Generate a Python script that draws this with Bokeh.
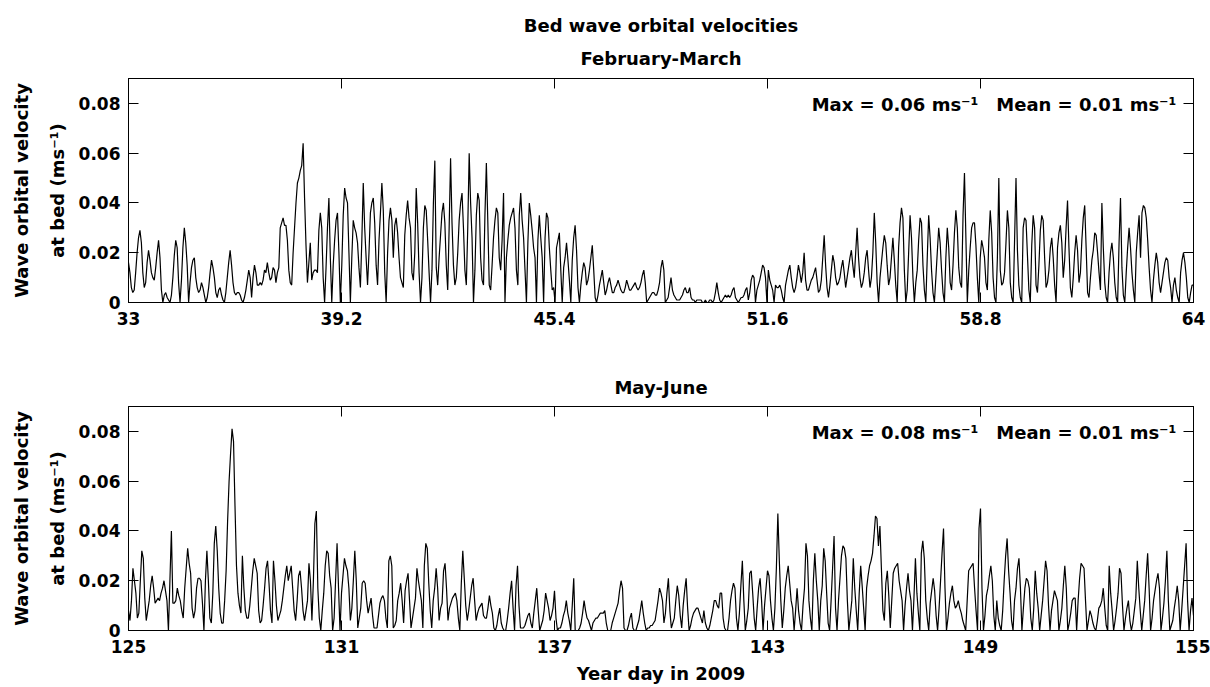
import numpy as np
from bokeh.plotting import figure
from bokeh.models import Range1d, FixedTicker, LinearAxis, Label, Title
from bokeh.layouts import column
from bokeh.embed import file_html
from bokeh.resources import INLINE

# ------------------------------------------------------------------ data
# hourly bed wave orbital velocity, in mm/s
feb_mar_start_day = 33
may_jun_start_day = 125
samples_per_day = 24

feb_mar_mm_s = [
    16, 12, 6, 4, 5, 12, 20, 26, 29, 24, 12, 6, 8, 16, 21, 17, 12, 10, 9, 14, 20, 25, 18, 5,      # 33
    0, 3, 4, 2, 1, 0, 3, 10, 19, 25, 22, 8, 0, 9, 22, 30, 24, 15, 0, 8, 14, 17, 18, 10,           # 34
    6, 4, 5, 8, 6, 3, 0, 2, 6, 12, 17, 14, 10, 4, 2, 5, 6, 3, 1, 0, 4, 10, 16, 21,                # 35
    15, 8, 4, 3, 4, 4, 3, 1, 0, 2, 5, 9, 13, 10, 2, 10, 15, 12, 7, 7, 8, 7, 9, 13,                # 36
    12, 16, 12, 9, 10, 14, 13, 8, 12, 14, 30, 32, 34, 31, 31, 25, 13, 8, 7, 20, 30, 40, 48, 50,   # 37
    53, 55, 64, 42, 23, 8, 16, 24, 9, 12, 13, 13, 12, 29, 36, 30, 10, 0, 14, 30, 42, 18, 0, 15,   # 38
    25, 33, 36, 20, 0, 15, 35, 46, 42, 40, 20, 0, 18, 33, 30, 28, 24, 14, 6, 25, 48, 30, 18, 7,   # 39
    20, 36, 40, 42, 32, 15, 7, 25, 36, 48, 37, 12, 0, 20, 33, 38, 33, 18, 31, 34, 28, 18, 10, 8,  # 40
    6, 27, 35, 41, 34, 30, 12, 9, 20, 46, 32, 12, 0, 10, 30, 39, 37, 25, 12, 0, 13, 40, 57, 14,   # 41
    7, 18, 27, 36, 40, 32, 15, 5, 30, 58, 32, 15, 7, 10, 20, 33, 40, 44, 30, 13, 7, 30, 60, 40,   # 42
    26, 0, 13, 35, 44, 41, 18, 9, 7, 35, 56, 33, 7, 5, 15, 26, 33, 38, 36, 18, 13, 25, 44, 0,     # 43
    18, 25, 31, 34, 36, 38, 30, 13, 7, 35, 44, 33, 26, 13, 0, 24, 40, 35, 29, 22, 18, 0, 25, 35,  # 44
    26, 18, 0, 26, 36, 34, 22, 13, 5, 6, 0, 22, 25, 28, 13, 0, 14, 18, 24, 17, 9, 0, 17, 26,      # 45
    31, 21, 6, 0, 7, 12, 16, 14, 7, 9, 13, 18, 23, 13, 2, 0, 3, 7, 10, 13, 8, 3, 5, 8,            # 46
    10, 7, 4, 4, 6, 7, 9, 7, 5, 4, 4, 6, 9, 7, 5, 5, 6, 7, 8, 6, 5, 6, 8, 11,                     # 47
    13, 8, 0, 1, 2, 3, 4, 4, 3, 3, 5, 8, 14, 17, 13, 0, 1, 2, 6, 10, 5, 3, 2, 1,                  # 48
    1, 1, 2, 3, 5, 6, 4, 4, 6, 2, 1, 1, 0, 1, 1, 1, 1, 0, 0, 1, 0, 0, 1, 1,                       # 49
    0, 1, 4, 8, 4, 1, 0, 1, 2, 3, 2, 3, 2, 3, 5, 6, 2, 1, 0, 1, 2, 2, 3, 5,                       # 50
    6, 1, 4, 9, 11, 10, 0, 5, 7, 9, 12, 15, 14, 10, 0, 13, 9, 7, 5, 0, 7, 6, 6, 7,                # 51
    5, 2, 0, 7, 10, 13, 15, 10, 6, 4, 6, 10, 15, 12, 8, 12, 20, 9, 5, 5, 7, 9, 10, 12,            # 52
    14, 9, 4, 5, 9, 18, 27, 15, 6, 2, 7, 13, 19, 16, 10, 7, 8, 10, 14, 17, 12, 6, 10, 14,         # 53
    18, 21, 15, 10, 20, 30, 18, 10, 6, 8, 12, 18, 21, 13, 6, 10, 20, 36, 24, 8, 0, 10, 16, 22,    # 54
    27, 24, 15, 7, 10, 18, 26, 17, 7, 0, 22, 32, 38, 34, 13, 0, 5, 20, 35, 26, 10, 0, 8, 13,      # 55
    25, 34, 32, 15, 5, 0, 18, 35, 26, 13, 4, 0, 10, 20, 30, 24, 13, 4, 0, 18, 30, 22, 8, 5,       # 56
    15, 28, 37, 30, 14, 8, 6, 35, 52, 26, 0, 13, 22, 30, 32, 32, 23, 10, 0, 18, 25, 22, 18, 8,    # 57
    5, 25, 37, 28, 10, 2, 0, 18, 50, 13, 7, 8, 12, 24, 37, 30, 8, 2, 0, 25, 50, 21, 7, 2,         # 58
    0, 30, 34, 33, 19, 5, 0, 23, 35, 30, 7, 4, 15, 29, 35, 33, 18, 6, 8, 13, 22, 26, 18, 7,       # 59
    0, 22, 28, 31, 24, 10, 17, 30, 41, 22, 6, 2, 10, 20, 27, 21, 8, 12, 25, 34, 39, 22, 4, 2,     # 60
    10, 17, 21, 28, 27, 20, 12, 5, 40, 22, 8, 2, 0, 12, 20, 24, 18, 8, 2, 0, 24, 42, 14, 3,       # 61
    0, 12, 22, 30, 22, 12, 5, 0, 20, 28, 35, 18, 36, 39, 38, 34, 25, 14, 5, 0, 9, 15, 20, 16,     # 62
    8, 4, 8, 12, 16, 18, 17, 10, 6, 0, 7, 10, 5, 2, 0, 12, 17, 20, 16, 10, 2, 0, 4, 7,            # 63
    7,
]

may_jun_mm_s = [
    8, 4, 12, 25, 20, 15, 5, 7, 20, 32, 29, 13, 4, 8, 12, 18, 22, 17, 11, 12, 13, 12, 15, 17,     # 125
    20, 16, 12, 0, 20, 40, 11, 11, 12, 17, 14, 12, 8, 5, 17, 25, 33, 27, 23, 9, 5, 8, 17, 21,     # 126
    21, 20, 11, 0, 20, 32, 20, 5, 3, 15, 35, 42, 32, 17, 7, 3, 3, 12, 24, 44, 60, 71, 81, 76,     # 127
    50, 26, 15, 10, 7, 30, 17, 8, 5, 5, 10, 17, 24, 29, 26, 23, 8, 3, 4, 10, 17, 25, 28, 19,      # 128
    8, 3, 28, 20, 10, 4, 6, 8, 12, 17, 22, 26, 20, 23, 26, 17, 8, 4, 12, 22, 24, 17, 8, 4,        # 129
    8, 12, 27, 20, 4, 20, 43, 48, 17, 5, 0, 8, 15, 26, 32, 31, 22, 17, 0, 5, 20, 35, 17, 0,       # 130
    15, 22, 29, 26, 24, 17, 4, 9, 20, 32, 20, 1, 5, 9, 19, 20, 19, 12, 7, 10, 13, 6, 1, 1,        # 131
    1, 6, 11, 13, 14, 12, 5, 1, 28, 30, 26, 1, 2, 4, 12, 15, 19, 12, 3, 16, 20, 23, 12, 1,        # 132
    5, 9, 13, 25, 20, 16, 12, 1, 26, 35, 33, 19, 8, 1, 12, 17, 25, 17, 4, 9, 11, 24, 27, 17,      # 133
    4, 9, 11, 13, 14, 15, 12, 5, 0, 19, 32, 21, 10, 4, 8, 13, 18, 21, 12, 4, 7, 9, 10, 11,        # 134
    6, 5, 5, 9, 14, 10, 7, 1, 0, 2, 6, 9, 3, 1, 0, 0, 4, 9, 15, 20, 9, 0, 18, 26,                 # 135
    10, 1, 1, 1, 2, 4, 6, 7, 3, 1, 7, 12, 17, 8, 0, 2, 4, 8, 15, 12, 9, 4, 6, 9,                  # 136
    16, 5, 0, 1, 1, 3, 6, 8, 12, 7, 4, 0, 10, 21, 0, 0, 0, 1, 3, 7, 12, 8, 5, 4,                  # 137
    2, 0, 3, 4, 5, 5, 6, 7, 7, 7, 8, 3, 0, 0, 0, 3, 5, 7, 9, 11, 16, 20, 17, 1,                   # 138
    0, 0, 2, 5, 7, 1, 0, 0, 2, 4, 8, 12, 7, 3, 0, 1, 1, 2, 2, 3, 4, 8, 12, 17,                    # 139
    15, 12, 3, 7, 15, 21, 8, 1, 3, 5, 12, 18, 14, 6, 1, 10, 16, 21, 9, 0, 2, 5, 7, 8,             # 140
    9, 9, 7, 5, 3, 8, 3, 1, 0, 2, 5, 8, 12, 12, 10, 9, 15, 15, 5, 1, 0, 0, 5, 12,                 # 141
    16, 19, 17, 5, 0, 7, 18, 28, 12, 0, 4, 9, 23, 24, 15, 5, 0, 9, 17, 21, 12, 0, 10, 17,         # 142
    24, 22, 12, 5, 0, 9, 25, 47, 28, 12, 1, 8, 17, 22, 26, 19, 12, 9, 0, 8, 17, 8, 3, 0,          # 143
    10, 17, 35, 30, 12, 5, 0, 20, 31, 20, 12, 0, 12, 18, 33, 28, 15, 3, 0, 12, 25, 38, 9, 0,      # 144
    12, 21, 30, 34, 33, 29, 12, 0, 6, 12, 29, 17, 8, 0, 15, 26, 18, 9, 0, 17, 22, 26, 28, 31,     # 145
    38, 46, 45, 34, 42, 25, 8, 4, 19, 24, 14, 1, 12, 23, 25, 26, 27, 20, 16, 12, 0, 10, 17, 23,   # 146
    16, 12, 0, 13, 29, 15, 7, 0, 31, 36, 29, 12, 5, 0, 11, 16, 21, 16, 6, 0, 9, 20, 31, 41,       # 147
    17, 0, 5, 11, 15, 18, 12, 9, 10, 12, 9, 7, 4, 2, 0, 12, 24, 25, 26, 27, 17, 8, 0, 41,         # 148
    49, 17, 0, 6, 14, 17, 22, 26, 20, 6, 0, 12, 5, 2, 0, 8, 20, 30, 37, 24, 15, 4, 0, 12,         # 149
    17, 25, 29, 17, 0, 9, 17, 21, 20, 17, 5, 0, 9, 24, 15, 9, 0, 6, 12, 20, 28, 24, 10, 0,        # 150
    8, 12, 16, 14, 12, 0, 4, 9, 18, 26, 17, 0, 3, 7, 12, 13, 13, 0, 12, 21, 27, 26, 25, 12,       # 151
    0, 4, 8, 6, 3, 1, 0, 4, 9, 10, 12, 17, 9, 2, 0, 26, 15, 8, 0, 4, 9, 15, 25, 23,               # 152
    10, 0, 5, 9, 12, 4, 0, 3, 8, 13, 28, 17, 8, 0, 6, 12, 22, 31, 17, 0, 5, 12, 16, 20,           # 153
    23, 17, 0, 5, 11, 20, 32, 12, 0, 2, 4, 9, 13, 18, 12, 0, 8, 17, 26, 35, 12, 0, 8, 13,         # 154
    6,
]

feb_mar_ticks = [33, 39.2, 45.4, 51.6, 57.8, 64]
feb_mar_tick_labels = ["33", "39.2", "45.4", "51.6", "58.8", "64"]
may_jun_ticks = [125, 131, 137, 143, 149, 155]
may_jun_tick_labels = ["125", "131", "137", "143", "149", "155"]
y_ticks = [0, 0.02, 0.04, 0.06, 0.08]
y_tick_labels = ["0", "0.02", "0.04", "0.06", "0.08"]

feb_mar_max, feb_mar_mean = "0.06", "0.01"
may_jun_max, may_jun_mean = "0.08", "0.01"

# ------------------------------------------------------------------ layout
FONT = "DejaVu Sans"
W = 1210
FRAME_L, FRAME_R, FRAME_H = 128, 1193, 224
Y_MAX = 0.09


def style_axis(ax, ticks, labels, show_labels=True):
    ax.ticker = FixedTicker(ticks=ticks, minor_ticks=[])
    if show_labels:
        ax.major_label_overrides = {t: s for t, s in zip(ticks, labels)}
    else:
        ax.major_label_overrides = {t: "" for t in ticks}
        ax.major_label_standoff = 0
    ax.major_tick_in = 10
    ax.major_tick_out = 0
    ax.minor_tick_in = 0
    ax.minor_tick_out = 0
    ax.axis_line_color = "black"
    ax.axis_line_width = 1
    ax.major_tick_line_color = "black"
    ax.major_tick_line_width = 1
    ax.major_label_text_font = FONT
    ax.major_label_text_font_size = "17px"
    ax.major_label_text_font_style = "bold"
    ax.major_label_text_color = "black"


def style_axis_label(ax, text, standoff):
    ax.axis_label = text
    ax.axis_label_standoff = standoff
    ax.axis_label_text_font = FONT
    ax.axis_label_text_font_size = "18px"
    ax.axis_label_text_font_style = "bold"
    ax.axis_label_text_color = "black"


def make_title(text, standoff):
    return Title(text=text, align="center", text_font=FONT, text_font_size="18px",
                 text_font_style="bold", text_color="black", standoff=standoff,
                 text_line_height=1.0)


def make_panel(start_day, vals, ticks, tick_labels, height, top_border, page_top):
    n = len(vals)
    x = start_day + np.arange(n) / samples_per_day
    y = np.array(vals) / 1000.0
    x0, x1 = ticks[0], ticks[-1]
    p = figure(width=W, height=height, output_backend="svg", toolbar_location=None,
               x_range=Range1d(x0, x1), y_range=Range1d(0, Y_MAX),
               x_axis_type=None, y_axis_type=None,
               min_border_left=FRAME_L, min_border_right=W - FRAME_R,
               min_border_top=top_border,
               min_border_bottom=height - top_border - FRAME_H)
    p.background_fill_color = "white"
    p.border_fill_color = "white"
    p.outline_line_color = "black"
    p.outline_line_width = 1

    bottom = LinearAxis()
    style_axis(bottom, ticks, tick_labels)
    bottom.major_label_standoff = 9
    p.add_layout(bottom, "below")
    top = LinearAxis()
    style_axis(top, ticks, tick_labels, show_labels=False)
    p.add_layout(top, "above")
    left = LinearAxis()
    style_axis(left, y_ticks, y_tick_labels)
    left.major_label_standoff = 8
    style_axis_label(left, "at bed (ms\u207b\u00b9)", 8)
    p.add_layout(left, "left")
    left2 = LinearAxis(ticker=FixedTicker(ticks=[], minor_ticks=[]))
    left2.axis_line_color = None
    left2.major_tick_in = 0
    left2.major_tick_out = 0
    left2.minor_tick_in = 0
    left2.minor_tick_out = 0
    left2.major_label_standoff = 0
    style_axis_label(left2, "Wave orbital velocity", 12)
    p.add_layout(left2, "left")
    right = LinearAxis()
    style_axis(right, y_ticks, y_tick_labels, show_labels=False)
    p.add_layout(right, "right")

    p.line(x, y, line_color="black", line_width=1.2)

    def add_text(px, py, text, size=18, align="left", baseline="middle"):
        xd = x0 + (px - FRAME_L) * (x1 - x0) / (FRAME_R - FRAME_L)
        yd = (page_top + FRAME_H - py) * Y_MAX / FRAME_H
        p.add_layout(Label(x=xd, y=yd, text=text, text_font=FONT,
                           text_font_size=f"{size}px", text_font_style="bold",
                           text_color="black", text_align=align,
                           text_baseline=baseline))

    return p, add_text, bottom


H1 = 350
H2 = 687 - H1

p1, t1, _ = make_panel(feb_mar_start_day, feb_mar_mm_s, feb_mar_ticks, feb_mar_tick_labels,
                       H1, 78, 78)
p1.add_layout(make_title("February-March", 20), "above")
p1.add_layout(make_title("Bed wave orbital velocities", 0), "above")
t1(978, 104, f"Max = {feb_mar_max} ms\u207b\u00b9", align="right")
t1(1176, 104, f"Mean = {feb_mar_mean} ms\u207b\u00b9", align="right")

p2, t2, bottom2 = make_panel(may_jun_start_day, may_jun_mm_s, may_jun_ticks, may_jun_tick_labels,
                             H2, 406 - H1, 406)
p2.add_layout(make_title("May-June", 18), "above")
t2(978, 432, f"Max = {may_jun_max} ms\u207b\u00b9", align="right")
t2(1176, 432, f"Mean = {may_jun_mean} ms\u207b\u00b9", align="right")
style_axis_label(bottom2, "Year day in 2009", 7)

layout = column(p1, p2, spacing=0)
open("out.html", "w").write(file_html(layout, INLINE))
